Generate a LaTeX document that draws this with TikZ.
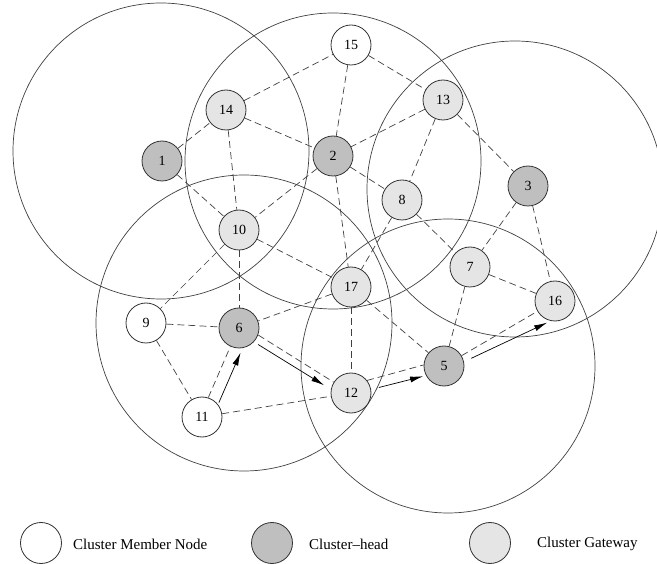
\documentclass[tikz,border=0pt]{standalone}
\usepackage{fontspec}
\setmainfont{Liberation Serif}
\usetikzlibrary{arrows.meta}
\begin{document}
\begin{tikzpicture}[x=1pt,y=-1pt,
  nd/.style={circle,draw=black!80,line width=0.8pt,minimum size=40pt,inner sep=0pt,font=\fontsize{14}{14}\selectfont},
  member/.style={nd,fill=white},
  head/.style={nd,fill=black!25},
  gate/.style={nd,fill=black!10},
  lgnode/.style={circle,draw=black!80,line width=0.8pt,minimum size=41pt,inner sep=0pt},
  clusterrange/.style={draw=black!75,line width=0.7pt},
  link/.style={draw=black!75,line width=0.7pt,dash pattern=on 7pt off 4pt},
  route/.style={draw=black,line width=0.7pt,-{Latex[length=13pt,width=6pt]}},
  lgtext/.style={anchor=west,inner sep=0pt,font=\fontsize{15}{15}\selectfont}]
\clip (0,0) rectangle (657,564);
% cluster ranges
\draw[clusterrange] (161,151) circle[radius=148];
\draw[clusterrange] (333,161) circle[radius=148];
\draw[clusterrange] (515,189) circle[radius=148];
\draw[clusterrange] (244,323) circle[radius=148];
\draw[clusterrange] (448,366) circle[radius=147];
% nodes
\node[head] (n1) at (162,161) {1};
\node[head] (n2) at (333,156) {2};
\node[head] (n3) at (528,186) {3};
\node[head] (n5) at (444,366) {5};
\node[head] (n6) at (239,328) {6};
\node[gate] (n7) at (470,267) {7};
\node[gate] (n8) at (402,200) {8};
\node[gate] (n10) at (239,230) {10};
\node[gate] (n12) at (351,393) {12};
\node[gate] (n13) at (443,100) {13};
\node[gate] (n14) at (226,110) {14};
\node[gate] (n16) at (555,301) {16};
\node[gate] (n17) at (351,287) {17};
\node[member] (n9) at (146,323) {9};
\node[member] (n11) at (202,417) {11};
\node[member] (n15) at (351,45) {15};
% links
\foreach \a/\b in {n1/n14,n1/n10,n14/n15,n14/n2,n14/n10,n15/n13,n15/n2,n13/n2,n13/n8,n13/n3,
  n2/n8,n2/n10,n2/n17,n8/n17,n8/n7,n3/n7,n3/n16,n7/n16,n7/n5,n10/n17,n10/n9,n10/n6,
  n17/n6,n17/n12,n17/n5,n9/n6,n9/n11,n11/n12,n5/n16}
  \draw[link] (\a) -- (\b);
\draw[link] (n11.72) -- (n6.245);
\draw[link] (n6.340) -- (n12.148);
\draw[link] (n12.38) -- (n5.177);
% route
\draw[route, shorten <=2pt, shorten >=5pt] (n11.38) -- (n6.280);
\draw[route, shorten <=5pt, shorten >=8pt] (n6.317) -- (n12.170);
\draw[route, shorten <=8pt, shorten >=3pt] (n12.10) -- (n5.208);
\draw[route, shorten <=8pt, shorten >=4pt] (n5.12) -- (n16.258);
% legend
\node[lgnode,fill=white] (lg1) at (41,543) {};
\node[lgtext] (lt1) at (73,544) {Cluster Member Node};
\node[lgnode,fill=black!25] (lg2) at (272,543) {};
\node[lgtext] (lt2) at (309,544) {Cluster–head};
\node[lgnode,fill=black!10] (lg3) at (490,543) {};
\node[lgtext] (lt3) at (537,544) {Cluster Gateway};
\end{tikzpicture}
\end{document}
